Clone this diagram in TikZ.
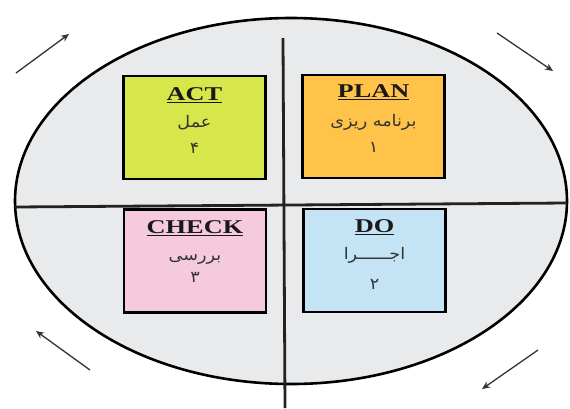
\documentclass[tikz,border=0pt]{standalone}
\usepackage{fontspec}
\setmainfont{Liberation Serif}
\newfontfamily\arabicfont[Script=Arabic]{DejaVu Sans}
\TeXXeTstate=1
\usetikzlibrary{calc,arrows.meta}
\definecolor{actc}{HTML}{D7E64B}
\definecolor{planc}{HTML}{FFC34A}
\definecolor{checkc}{HTML}{F6CADD}
\definecolor{doc}{HTML}{C4E4F5}
\definecolor{ellc}{HTML}{E9EAEC}
\definecolor{linec}{HTML}{222222}
\tikzset{
  box/.style={draw=black, line width=2.8pt, minimum width=142pt, minimum height=103pt, inner sep=0pt},
  title/.style={font=\fontsize{19.5}{20}\selectfont\bfseries, inner sep=0pt, text=black!90},
  fa/.style={font=\arabicfont\fontsize{16}{18}\selectfont, inner sep=0pt, text=black!80},
  flow/.style={draw=black!80, line width=1.3pt, -{Stealth[length=8pt,width=7pt]}},
  divider/.style={draw=linec, line width=2.8pt}
}
\newcommand{\wide}[1]{\scalebox{1.35}[1]{#1}}
\newcommand{\rtl}[1]{\scalebox{1.1}[1]{\beginR #1\endR}}
\begin{document}
\begin{tikzpicture}[x=1pt,y=-1pt]
\useasboundingbox (0,0) rectangle (570,408);
% ellipse
\filldraw[fill=ellc, draw=black, line width=2.6pt] (291,201) ellipse [x radius=276, y radius=183];
% dividers
\coordinate (vtop) at (283,38);
\coordinate (vbot) at (285,408);
\coordinate (hl) at (15,207);
\coordinate (hr) at (567,203);
\draw[divider] (vtop) -- (vbot);
\draw[divider] (hl) -- (hr);
% boxes
\node[box, fill=actc] (act) at (194.5,127.5) {};
\node[box, fill=planc] (plan) at (373.5,126.5) {};
\node[box, fill=checkc] (check) at (195,261) {};
\node[box, fill=doc] (do) at (374.5,260.5) {};
% texts
\node[title] (actT) at ($(act.center)+(0,-32)$) {\wide{\underline{ACT}}};
\node[fa] (actA) at ($(act.center)+(0,-5)$) {\rtl{عمل}};
\node[fa] (actN) at ($(act.center)+(0,21)$) {\rtl{۴}};
\node[title] (planT) at ($(plan.center)+(0,-34)$) {\wide{\underline{PLAN}}};
\node[fa] (planA) at ($(plan.center)+(0,-4)$) {\rtl{برنامه ریزی}};
\node[fa] (planN) at ($(plan.center)+(0,21)$) {\rtl{۱}};
\node[title] (checkT) at ($(check.center)+(0,-33)$) {\wide{\underline{CHECK}}};
\node[fa] (checkA) at ($(check.center)+(0,-1)$) {\rtl{بررسی}};
\node[fa] (checkN) at ($(check.center)+(0,16)$) {\rtl{۳}};
\node[title] (doT) at ($(do.center)+(0,-33)$) {\wide{\underline{DO}}};
\node[fa] (doA) at ($(do.center)+(0,-5)$) {\rtl{اجــــــرا}};
\node[fa] (doN) at ($(do.center)+(0,24)$) {\rtl{۲}};
% arrows
\coordinate (a1s) at (16,73);  \coordinate (a1e) at (69,34);
\coordinate (a2s) at (497,33); \coordinate (a2e) at (553,71);
\coordinate (a3s) at (538,350); \coordinate (a3e) at (482,389);
\coordinate (a4s) at (90,370); \coordinate (a4e) at (36,331);
\draw[flow] (a1s) -- (a1e);
\draw[flow] (a2s) -- (a2e);
\draw[flow] (a3s) -- (a3e);
\draw[flow] (a4s) -- (a4e);
\end{tikzpicture}
\end{document}
